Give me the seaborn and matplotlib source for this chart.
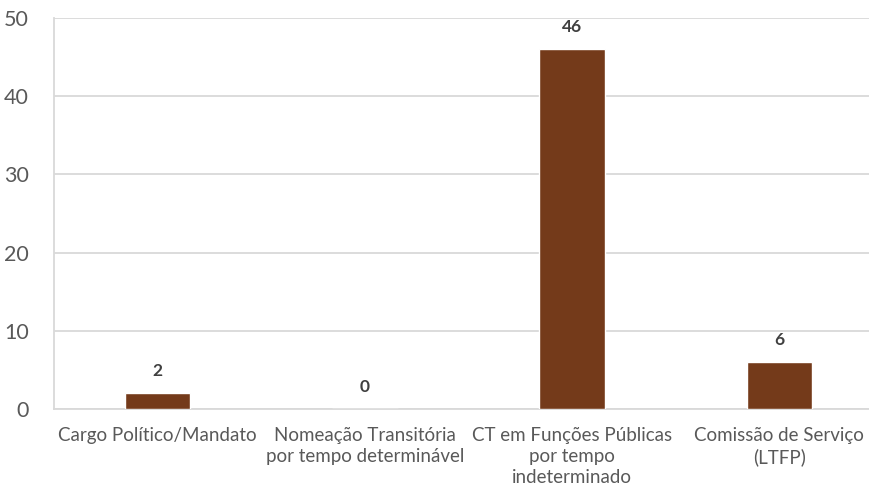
import matplotlib
matplotlib.use("Agg")
import matplotlib.pyplot as plt
import seaborn as sns
import pandas as pd

categories = [
    "Cargo Político/Mandato",
    "Nomeação Transitória\npor tempo determinável",
    "CT em Funções Públicas\npor tempo\nindeterminado",
    "Comissão de Serviço\n(LTFP)",
]
values = [2, 0, 46, 6]
y_ticks = [0, 10, 20, 30, 40, 50]

bar_color = "#743A1A"
grid_color = "#D9D9D9"
text_color = "#595959"

sns.set_theme(style="white")
plt.rcParams["font.family"] = ["Lato", "DejaVu Sans"]

df = pd.DataFrame({"categoria": categories, "valor": values})

fig = plt.figure(figsize=(8.70, 4.92), dpi=100)
ax = fig.add_axes([54 / 870, 1 - 409 / 492, 829 / 870, 391 / 492])

sns.barplot(data=df, x="categoria", y="valor", color=bar_color,
            width=0.315, saturation=1, ax=ax, zorder=3)

ax.set_ylim(0, 50)
ax.set_xlim(-0.5, len(categories) - 0.5)
ax.set_yticks(y_ticks)
ax.yaxis.grid(True, color=grid_color, linewidth=1.3, zorder=0)
ax.xaxis.grid(False)
ax.set_xlabel("")
ax.set_ylabel("")

for side in ["top", "right"]:
    ax.spines[side].set_visible(False)
for side in ["left", "bottom"]:
    ax.spines[side].set_color(grid_color)
    ax.spines[side].set_linewidth(1.3)

ax.tick_params(axis="y", length=0, pad=18, labelsize=15.5, labelcolor=text_color)
ax.tick_params(axis="x", length=0, pad=13, labelsize=13.5, labelcolor=text_color)
for lbl in ax.get_xticklabels():
    lbl.set_linespacing(1.3)

for i, v in enumerate(values):
    ax.annotate(f"{v}", xy=(i, v), xytext=(0, 10), textcoords="offset points",
                ha="center", va="bottom", fontsize=12.5, fontweight="bold",
                color="#404040")

fig.savefig("out.png", dpi=100)
